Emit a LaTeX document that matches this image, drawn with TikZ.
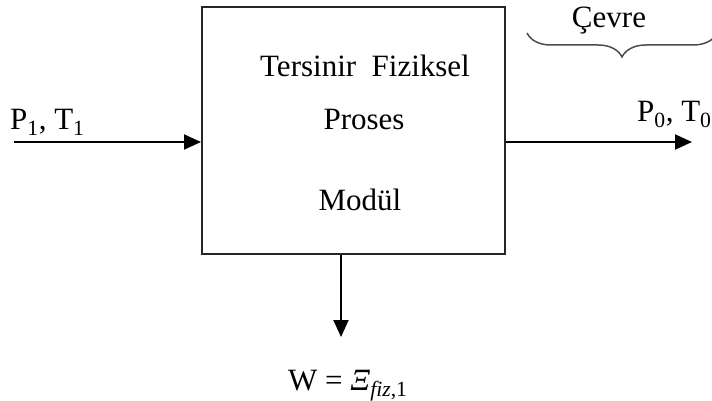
\documentclass[tikz,border=0pt]{standalone}
\usepackage{fontspec}
\setmainfont{Liberation Serif}
\usepackage{tikz}
\usetikzlibrary{arrows.meta}
\usetikzlibrary{decorations.pathreplacing}
\tikzset{
  lbl_text/.style = {inner sep=0pt, anchor=base,
    font=\fontsize{31}{37}\selectfont},% etiquettes
  proc_box/.style = {rectangle, draw=black!85, line width=2pt,
    minimum width=303pt, minimum height=247pt, inner sep=0pt},% bloc du module
  flow_arrow/.style = {draw=black, line width=2pt,
    -{Triangle[length=17pt,width=15pt]}},% fleches de flux
  env_brace/.style = {draw=black!70, line width=1.5pt,
    decorate, decoration={brace, mirror, amplitude=24pt}}% accolade
}
\begin{document}
\begin{tikzpicture}[x=1pt, y=-1pt]
      \useasboundingbox (0,0) rectangle (712,401);
      \node [proc_box] (modul) at (353.5,130.5) {};
      \node [lbl_text] (t1) at (365,77) {Tersinir\ \ Fiziksel};
      \node [lbl_text] (t2) at (364,130) {Proses};
      \node [lbl_text] (t3) at (360,210) {Modül};
      \coordinate (in) at (14,142);
      \coordinate (out) at (692,142);
      \coordinate (work) at (341,337);
      \draw [flow_arrow] (in) -- (in -| modul.west);
      \draw [flow_arrow] (out -| modul.east) -- (out);
      \draw [flow_arrow] (work |- modul.south) -- (work);
      \node [lbl_text, anchor=base west] (p1) at (10,130) {P\textsubscript{1}, T\textsubscript{1}};
      \node [lbl_text, anchor=base west] (p0) at (637,122) {P\textsubscript{0}, T\textsubscript{0}};
      \node [lbl_text, anchor=base west] (w) at (288,390)
          {W = \textit{Ξ}\textsubscript{\textit{fiz},1}};
      \node [lbl_text] (cevre) at (609,28) {Çevre};
      \coordinate (br_a) at (527,33);
      \coordinate (br_b) at (717,33);
      \draw [env_brace] (br_a) -- (br_b);
    \end{tikzpicture}
\end{document}
